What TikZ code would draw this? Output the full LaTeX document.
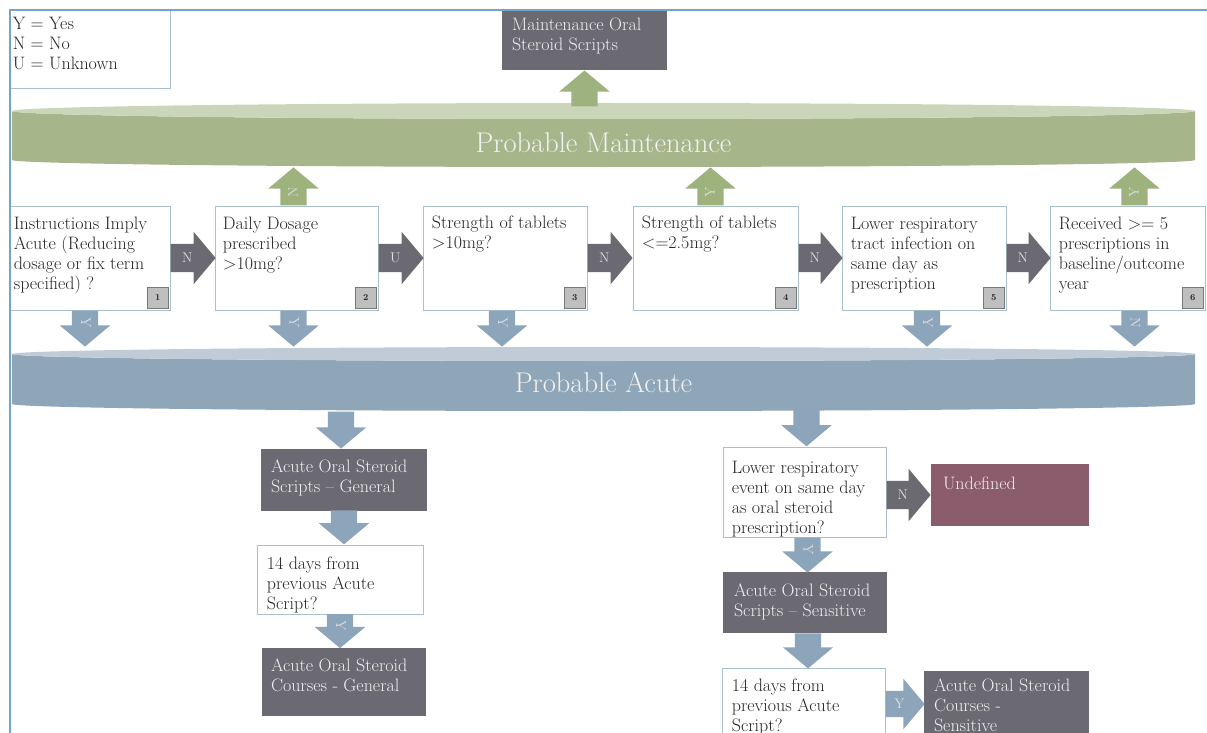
\documentclass[tikz,border=0pt]{standalone}
\usepackage{fontspec}
\usetikzlibrary{shapes.arrows,calc}
\definecolor{outgray}{RGB}{107,106,114}
\definecolor{boxline}{RGB}{170,192,206}
\definecolor{qtext}{RGB}{38,38,38}
\definecolor{maintbody}{RGB}{166,181,138}
\definecolor{mainttop}{RGB}{203,213,185}
\definecolor{maintarrow}{RGB}{157,178,125}
\definecolor{acutebody}{RGB}{143,166,184}
\definecolor{acutetop}{RGB}{191,204,215}
\definecolor{acutearrow}{RGB}{141,165,186}
\definecolor{undefmauve}{RGB}{139,92,108}
\definecolor{badgefill}{RGB}{191,191,191}
\definecolor{badgeline}{RGB}{120,120,120}
\definecolor{frameblue}{RGB}{120,163,200}
\tikzset{QBOX/.style={rectangle,draw=boxline,fill=white,line width=0.8pt,inner sep=0pt}}
\tikzset{OUTBOX/.style={rectangle,fill=outgray,inner sep=0pt}}
\tikzset{QTEXT/.style={anchor=north west,inner sep=0pt,align=left,font=\fontsize{18}{20}\selectfont,text=qtext}}
\tikzset{OUTTEXT/.style={QTEXT,text=white!94!black}}
\tikzset{BANDTEXT/.style={inner sep=0pt,font=\fontsize{28.5}{32}\selectfont,text=white!95!black}}
\tikzset{BADGE/.style={rectangle,draw=badgeline,fill=badgefill,minimum size=21pt,inner sep=0pt,anchor=south east,font=\fontsize{9}{9}\selectfont\bfseries,text=qtext}}
\tikzset{ARROWBASE/.style={single arrow,single arrow head extend=12pt,single arrow tip angle=100,minimum width=50pt,text height=10pt,text depth=2pt,inner xsep=1pt,inner ysep=7pt,font=\fontsize{14}{14}\selectfont,text=white!88!black}}
\tikzset{GREYARROW/.style={ARROWBASE,fill=outgray,anchor=tail,minimum height=45pt,inner ysep=8pt}}
\tikzset{UPARROW/.style={ARROWBASE,fill=maintarrow,rotate=90,anchor=tail,minimum height=38pt}}
\tikzset{DOWNARROW/.style={ARROWBASE,fill=acutearrow,rotate=-90,anchor=tail,minimum height=36pt}}

\begin{document}
\begin{tikzpicture}[x=1pt,y=1pt]
\useasboundingbox (0,0) rectangle (1207,-733);
\clip (0,0) rectangle (1207,-733);

\node[QBOX,minimum width=160pt,minimum height=78pt] (n_legend) at (90,-49) {};
\node[QTEXT] (t_legend) at ($(n_legend.north west)+(3,-7)$) {Y = Yes\\N = No\\U = Unknown};

\node[OUTBOX,minimum width=165pt,minimum height=60pt] (n_maint_out) at (584.5,-40) {};
\node[OUTTEXT] (t_maint_out) at ($(n_maint_out.north west)+(10,-8)$) {Maintenance Oral\\Steroid Scripts};

% probable maintenance band
\fill[maintbody] (12,-111) -- (12,-160) arc[start angle=180,end angle=360,x radius=591.5pt,y radius=7pt] -- (1195,-111) arc[start angle=0,end angle=-180,x radius=591.5pt,y radius=8pt] -- cycle;
\fill[mainttop] (603.5,-111) ellipse[x radius=591.5pt,y radius=8pt];
\node[BANDTEXT] (n_maint) at (603.5,-143) {Probable Maintenance};

% probable acute band
\fill[acutebody] (12,-354) -- (12,-404) arc[start angle=180,end angle=360,x radius=591.5pt,y radius=7pt] -- (1195,-354) arc[start angle=0,end angle=-180,x radius=591.5pt,y radius=7pt] -- cycle;
\fill[acutetop] (603.5,-354) ellipse[x radius=591.5pt,y radius=7pt];
\node[BANDTEXT] (n_acute) at (603.5,-383) {Probable Acute};

\node[UPARROW,anchor=tip,minimum height=36pt] (a_maint_out) at (n_maint_out.south) {};

% decision row
\node[QBOX,minimum width=160pt,minimum height=104pt] (n_q1) at (90,-258) {};
\node[QBOX,minimum width=163pt,minimum height=104pt] (n_q2) at (296.5,-258) {};
\node[QBOX,minimum width=164pt,minimum height=104pt] (n_q3) at (505,-258) {};
\node[QBOX,minimum width=165pt,minimum height=104pt] (n_q4) at (715.5,-258) {};
\node[QBOX,minimum width=164pt,minimum height=104pt] (n_q5) at (924,-258) {};
\node[QBOX,minimum width=155pt,minimum height=104pt] (n_q6) at (1127.5,-258) {};

\node[QTEXT] (t_q1) at ($(n_q1.north west)+(4,-11)$) {Instructions Imply\\Acute (Reducing\\dosage or fix term\\specified) ?};
\node[QTEXT] (t_q2) at ($(n_q2.north west)+(8,-11)$) {Daily Dosage\\prescribed\\>10mg?};
\node[QTEXT] (t_q3) at ($(n_q3.north west)+(9,-10)$) {Strength of tablets\\>10mg?};
\node[QTEXT] (t_q4) at ($(n_q4.north west)+(9,-10)$) {Strength of tablets\\<=2.5mg?};
\node[QTEXT] (t_q5) at ($(n_q5.north west)+(9,-11)$) {Lower respiratory\\tract infection on\\same day as\\prescription};
\node[QTEXT] (t_q6) at ($(n_q6.north west)+(9,-11)$) {Received >= 5\\prescriptions in\\baseline/outcome\\year};

\node[BADGE] (b_q1) at ($(n_q1.south east)+(-2,2)$) {1};
\node[BADGE] (b_q2) at ($(n_q2.south east)+(-2,2)$) {2};
\node[BADGE] (b_q3) at ($(n_q3.south east)+(-2,2)$) {3};
\node[BADGE] (b_q4) at ($(n_q4.south east)+(-2,2)$) {4};
\node[BADGE] (b_q5) at ($(n_q5.south east)+(-2,2)$) {5};
\node[BADGE] (b_q6) at ($(n_q6.south east)+(-2,2)$) {6};

\node[GREYARROW] (a_q1_q2) at (n_q1.east) {N};
\node[GREYARROW] (a_q2_q3) at (n_q2.east) {U};
\node[GREYARROW] (a_q3_q4) at (n_q3.east) {N};
\node[GREYARROW,minimum height=44pt] (a_q4_q5) at (n_q4.east) {N};
\node[GREYARROW,minimum height=44pt] (a_q5_q6) at (n_q5.east) {N};

\node[UPARROW] (a_q2_maint) at ($(n_q2.north)+(-3,0)$) {N};
\node[UPARROW] (a_q4_maint) at ($(n_q4.north)+(-5,0)$) {Y};
\node[UPARROW] (a_q6_maint) at ($(n_q6.north)+(7,0)$) {Y};

\node[DOWNARROW] (a_q1_acute) at ($(n_q1.south)+(-5,0)$) {Y};
\node[DOWNARROW] (a_q2_acute) at ($(n_q2.south)+(-3,0)$) {Y};
\node[DOWNARROW] (a_q3_acute) at ($(n_q3.south)+(-3,0)$) {Y};
\node[DOWNARROW] (a_q5_acute) at ($(n_q5.south)+(3,0)$) {Y};
\node[DOWNARROW] (a_q6_acute) at ($(n_q6.south)+(7,0)$) {N};

% general branch
\node[OUTBOX,minimum width=166pt,minimum height=62pt] (n_gen_scripts) at (344,-480) {};
\node[OUTTEXT] (t_gen_scripts) at ($(n_gen_scripts.north west)+(10,-11)$) {Acute Oral Steroid\\Scripts -- General};
\node[QBOX,minimum width=166pt,minimum height=69pt] (n_gen_days) at (340,-579.5) {};
\node[QTEXT] (t_gen_days) at ($(n_gen_days.north west)+(10,-12)$) {14 days from\\previous Acute\\Script?};
\node[OUTBOX,minimum width=164pt,minimum height=68pt] (n_gen_courses) at (344,-682) {};
\node[OUTTEXT] (t_gen_courses) at ($(n_gen_courses.north west)+(9,-11)$) {Acute Oral Steroid\\Courses - General};

\node[DOWNARROW,anchor=tip,minimum height=37pt] (a_acute_gen) at ($(n_gen_scripts.north)+(-3,0)$) {};
\node[DOWNARROW,anchor=tip,minimum height=34pt] (a_gen_days) at (n_gen_scripts.south|-n_gen_days.north) {};
\node[DOWNARROW,anchor=tip,minimum height=34pt] (a_gen_courses) at ($(n_gen_days.south)+(0,-34)$) {Y};

% sensitive branch
\node[QBOX,minimum width=163pt,minimum height=90pt] (n_lr_event) at (804.5,-492) {};
\node[QTEXT] (t_lr_event) at ($(n_lr_event.north west)+(9,-14)$) {Lower respiratory\\event on same day\\as oral steroid\\prescription?};
\node[rectangle,fill=undefmauve,inner sep=0pt,minimum width=158pt,minimum height=62pt] (n_undef) at (1010,-495) {};
\node[OUTTEXT] (t_undef) at ($(n_undef.north west)+(12,-13)$) {Undefined};
\node[OUTBOX,minimum width=164pt,minimum height=61pt] (n_sens_scripts) at (805,-602.5) {};
\node[OUTTEXT] (t_sens_scripts) at ($(n_sens_scripts.north west)+(11,-12)$) {Acute Oral Steroid\\Scripts -- Sensitive};
\node[QBOX,minimum width=163pt,minimum height=92pt] (n_sens_days) at (803.5,-714) {};
\node[QTEXT] (t_sens_days) at ($(n_sens_days.north west)+(10,-11)$) {14 days from\\previous Acute\\Script?};
\node[OUTBOX,minimum width=165pt,minimum height=89pt] (n_sens_courses) at (1006.5,-715.5) {};
\node[OUTTEXT] (t_sens_courses) at ($(n_sens_courses.north west)+(10,-8)$) {Acute Oral Steroid\\Courses -\\Sensitive};

\node[DOWNARROW,anchor=tip,minimum height=37pt] (a_acute_lr) at ($(n_lr_event.north)+(2,0)$) {};
\node[GREYARROW,minimum height=44pt] (a_lr_undef) at ($(n_lr_event.east)+(0,-3)$) {N};
\node[DOWNARROW,minimum height=35pt] (a_lr_sens) at ($(n_lr_event.south)+(3,0)$) {Y};
\node[DOWNARROW,minimum height=35pt] (a_sens_days) at ($(n_sens_scripts.south)+(3,0)$) {};
\node[GREYARROW,fill=acutearrow,inner ysep=7pt,minimum height=39pt] (a_days_courses) at ($(n_sens_days.east)+(0,10)$) {Y};

\draw[frameblue,line width=1.5pt] (10,-733) -- (10,-10) -- (1207,-10);

\end{tikzpicture}
\end{document}
